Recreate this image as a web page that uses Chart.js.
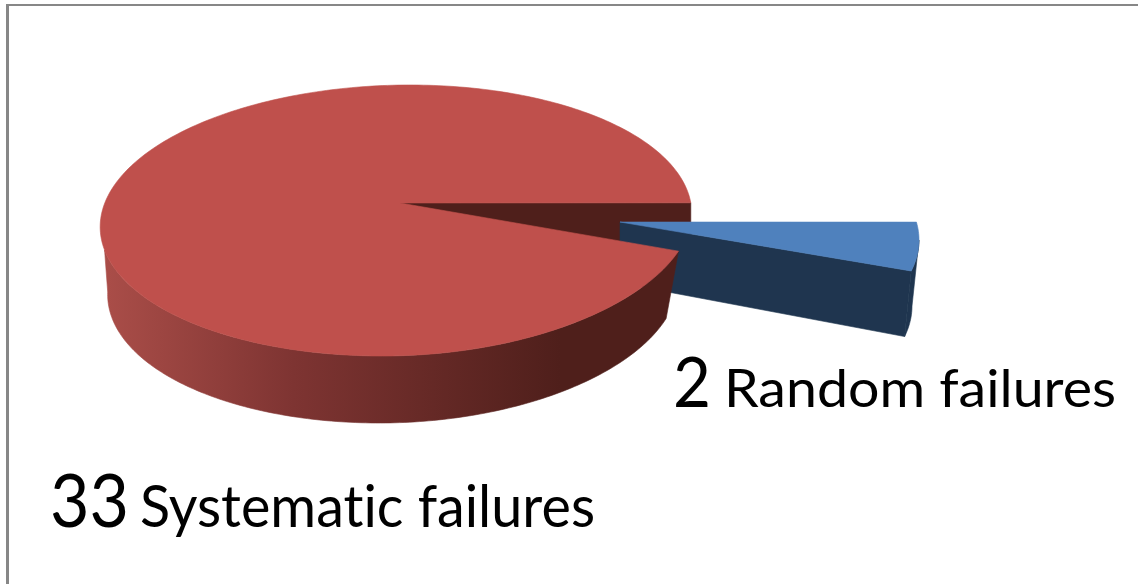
<!DOCTYPE html>
<html><head><meta charset="utf-8">
<style>html,body{margin:0;padding:0;background:#fff}canvas{display:block}</style>
<script src="https://cdn.jsdelivr.net/npm/chart.js@4"></script></head>
<body><canvas id="c" width="1138" height="584"></canvas>
<script>
const categories = ['Random failures', 'Systematic failures'];
const failureCounts = [2, 33];
const topColors = ['#4f81bd', '#bf504c'];
const wallColors = ['#1f354f', '#4f1f1b'];

const D = Math.PI / 180;
// Screen placement of each slice's top and bottom rim, and of its apex.
const sliceViews = [
  { top: {cx:619, cy:240, rx:300, ry:137, sh:0, q:0, ax:620, ay:222},
    bot: {cx:627, cy:306, rx:285, ry:135, sh:0, q:0, ax:620, ay:283} },
  { top: {cx:396, cy:220.5, rx:295.5, ry:135.5, sh:-14, q:-10, ax:400, ay:203},
    bot: {cx:393, cy:288, rx:285, ry:135, sh:-14, q:-6, ax:400, ay:268} }
];
const labelViews = [
  { nx:673, nw:38, ns:70, tx:724, tw:392, ts:52, y:407 },
  { nx:50,  nw:79, ns:74, tx:140, tw:455, ts:58, y:527 }
];

function rim(v, t) {
  const c = Math.cos(t), s = Math.sin(t);
  return [v.cx + v.rx * c + v.sh * s + (c > 0 && s > 0 ? v.q * s * c : 0), v.cy + v.ry * s];
}
function arcPts(v, a, b) {
  const pts = [], n = Math.max(2, Math.ceil(Math.abs(b - a) / D));
  for (let i = 0; i <= n; i++) pts.push(rim(v, a + (b - a) * i / n));
  return pts;
}
function fill(ctx, pts, color) {
  ctx.beginPath();
  pts.forEach((p, i) => i ? ctx.lineTo(p[0], p[1]) : ctx.moveTo(p[0], p[1]));
  ctx.closePath();
  ctx.fillStyle = color;
  ctx.fill();
  ctx.strokeStyle = color;
  ctx.lineWidth = 0.6;
  ctx.stroke();
}
function fitted(ctx, text, x, y, width, size) {
  ctx.save();
  ctx.font = '400 ' + size + 'px Lato';
  ctx.letterSpacing = '0.01px';
  ctx.textBaseline = 'alphabetic';
  ctx.textAlign = 'left';
  ctx.fillStyle = '#000';
  const w = ctx.measureText(text).width;
  ctx.translate(x, y);
  ctx.scale(width / w, 1);
  ctx.fillText(text, 0, 0);
  ctx.restore();
}

const pie3d = {
  id: 'pie3d',
  beforeDatasetsDraw(chart) {
    const ctx = chart.ctx, arcs = chart.getDatasetMeta(0).data;
    const blue = arcs[0], red = arcs[1];
    const bv = sliceViews[0], rv = sliceViews[1];
    const apex = v => [v.ax, v.ay];

    // Red: cut wall at the slice's far edge, seen through the gap
    const farTop = rim(rv.top, red.endAngle), farBot = rim(rv.bot, red.endAngle);
    fill(ctx, [apex(rv.top), farTop, [farTop[0], farBot[1]], apex(rv.bot)], wallColors[1]);

    // Blue: cut wall, outer wall, top
    fill(ctx, [apex(bv.top), rim(bv.top, blue.endAngle), rim(bv.bot, blue.endAngle), apex(bv.bot)], wallColors[0]);
    fill(ctx, arcPts(bv.top, 0, blue.endAngle).concat(arcPts(bv.bot, blue.endAngle, 0)), wallColors[0]);
    fill(ctx, [apex(bv.top)].concat(arcPts(bv.top, blue.startAngle, blue.endAngle)), topColors[0]);

    // Red: outer wall with left-to-right shading, then top
    const g = ctx.createLinearGradient(100, 0, 560, 0);
    g.addColorStop(0, '#ab4e49');
    g.addColorStop(0.42, '#7e3432');
    g.addColorStop(1, wallColors[1]);
    const s = red.startAngle;
    fill(ctx, arcPts(rv.top, s, Math.PI - 0.22).concat(arcPts(rv.bot, Math.PI - 0.03, s)), g);
    fill(ctx, [apex(rv.top)].concat(arcPts(rv.top, red.startAngle, red.endAngle)), topColors[1]);

    // Labels
    labelViews.forEach((l, i) => {
      fitted(ctx, String(failureCounts[i]), l.nx, l.y, l.nw, l.ns);
      fitted(ctx, categories[i], l.tx, l.y, l.tw, l.ts);
    });

    // Frame: top and left rules
    ctx.fillStyle = '#878787';
    ctx.fillRect(6, 4, 1132, 2);
    ctx.fillRect(6, 4, 3, 580);
    return false;
  }
};

new Chart(document.getElementById('c'), {
  type: 'pie',
  data: { labels: categories, datasets: [{ data: failureCounts, backgroundColor: topColors, borderWidth: 0 }] },
  options: {
    responsive: false, animation: false, rotation: 82.5,
    layout: { padding: 0 },
    plugins: { legend: { display: false }, tooltip: { enabled: false } }
  },
  plugins: [pie3d]
});
</script></body></html>
